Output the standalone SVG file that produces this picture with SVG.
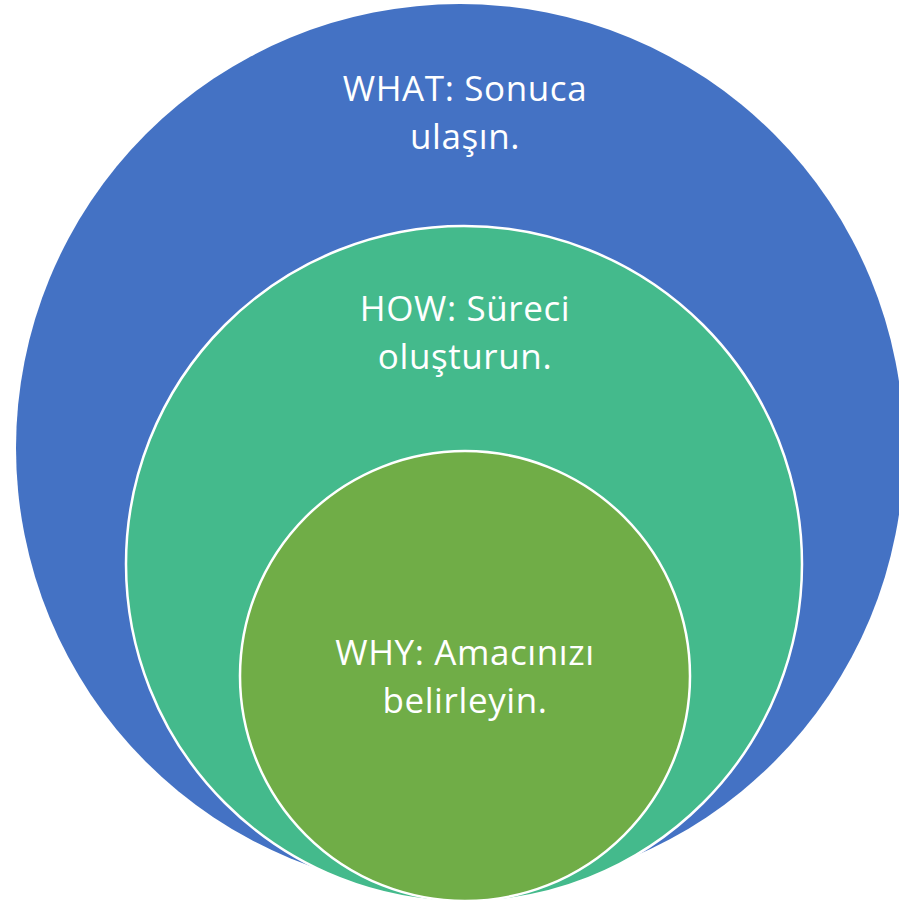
<svg xmlns="http://www.w3.org/2000/svg" width="899" height="903" viewBox="0 0 899 903">
<style>
.c{stroke:#ffffff;stroke-width:2.5}
.t{font-family:"Open Sans","Liberation Sans",sans-serif;font-size:35px;letter-spacing:0.6px;fill:#ffffff;text-anchor:middle}
</style>
<rect width="899" height="903" fill="#ffffff"/>
<g id="what">
<circle cx="460" cy="448" r="444" fill="#4472C4"/>
<text class="t" x="465" y="101">WHAT: Sonuca<tspan x="465" dy="48">ulaşın.</tspan></text>
</g>
<g id="how">
<circle class="c" cx="464" cy="564" r="338" fill="#44BA8C"/>
<text class="t" x="465" y="321">HOW: Süreci<tspan x="465" dy="48">oluşturun.</tspan></text>
</g>
<g id="why">
<circle class="c" cx="465" cy="676" r="225" fill="#70AD47"/>
<text class="t" x="465" y="665">WHY: Amacınızı<tspan x="465" dy="48">belirleyin.</tspan></text>
</g>
<g id="connectors"/>
</svg>
